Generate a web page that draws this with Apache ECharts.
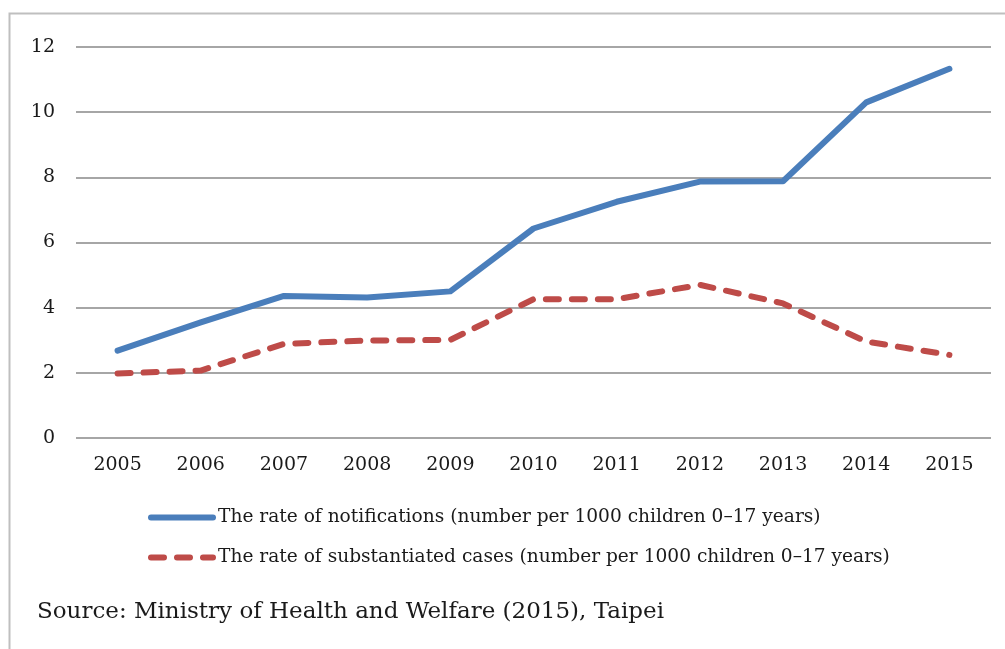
<!DOCTYPE html>
<html>
<head>
<meta charset="utf-8">
<script src="https://cdn.jsdelivr.net/npm/echarts@6/dist/echarts.min.js"></script>
<style>
html,body{margin:0;padding:0;background:#fff;}
#chart{width:1005px;height:649px;}
</style>
</head>
<body>
<div id="chart"></div>
<script>
var years = ['2005','2006','2007','2008','2009','2010','2011','2012','2013','2014','2015'];
var notifications = [2.68, 3.55, 4.36, 4.31, 4.5, 6.43, 7.25, 7.87, 7.88, 10.3, 11.33];
var substantiated = [1.98, 2.07, 2.89, 2.99, 3.01, 4.26, 4.26, 4.7, 4.13, 2.96, 2.55];
var yTicks = [0, 2, 4, 6, 8, 10, 12];
var seriesNames = [
  'The rate of notifications (number per 1000 children 0\u201317 years)',
  'The rate of substantiated cases (number per 1000 children 0\u201317 years)'
];
var sourceText = 'Source: Ministry of Health and Welfare (2015), Taipei';

var FONT = '"DejaVu Serif", "Liberation Serif", serif';
var chart = echarts.init(document.getElementById('chart'), null, {renderer: 'canvas'});
chart.setOption({
  animation: false,
  backgroundColor: '#fff',
  textStyle: {fontFamily: FONT},
  grid: {left: 76, right: 14, top: 47, bottom: 211, containLabel: false},
  xAxis: {
    type: 'category',
    data: years,
    boundaryGap: true,
    axisLine: {show: false},
    axisTick: {show: false},
    axisLabel: {color: '#1a1a1a', fontSize: 19, fontFamily: FONT, margin: 18}
  },
  yAxis: {
    type: 'value',
    min: yTicks[0],
    max: yTicks[yTicks.length - 1],
    interval: 2,
    axisLine: {show: false},
    axisTick: {show: false},
    axisLabel: {color: '#1a1a1a', fontSize: 19, fontFamily: FONT, margin: 21},
    splitLine: {lineStyle: {color: '#a6a6a6', width: 2}}
  },
  legend: {
    orient: 'vertical',
    left: 148,
    top: 508,
    padding: 0,
    itemWidth: 62,
    itemHeight: 20,
    itemGap: 21,
    itemStyle: {opacity: 0},
    lineStyle: {width: 6, cap: 'round'},
    textStyle: {fontSize: 18.6, fontFamily: FONT, color: '#1a1a1a', padding: [0, 0, 0, 0]},
    data: seriesNames
  },
  graphic: [
    {
      type: 'rect',
      shape: {x: 9.5, y: 13.5, width: 1100, height: 700},
      style: {fill: 'none', stroke: '#bfbfbf', lineWidth: 2},
      silent: true
    },
    {
      type: 'text',
      left: 37,
      top: 601,
      style: {text: sourceText, font: '23px ' + FONT, fill: '#1a1a1a'}
    }
  ],
  series: [
    {
      name: seriesNames[0],
      type: 'line',
      data: notifications,
      symbol: 'none',
      lineStyle: {color: '#4a7ebb', width: 6, cap: 'round', join: 'round'},
      itemStyle: {color: '#4a7ebb'}
    },
    {
      name: seriesNames[1],
      type: 'line',
      data: substantiated,
      symbol: 'none',
      lineStyle: {color: '#be4b48', width: 6, type: [13, 13], cap: 'round', join: 'round'},
      itemStyle: {color: '#be4b48'}
    }
  ]
});
</script>
</body>
</html>
